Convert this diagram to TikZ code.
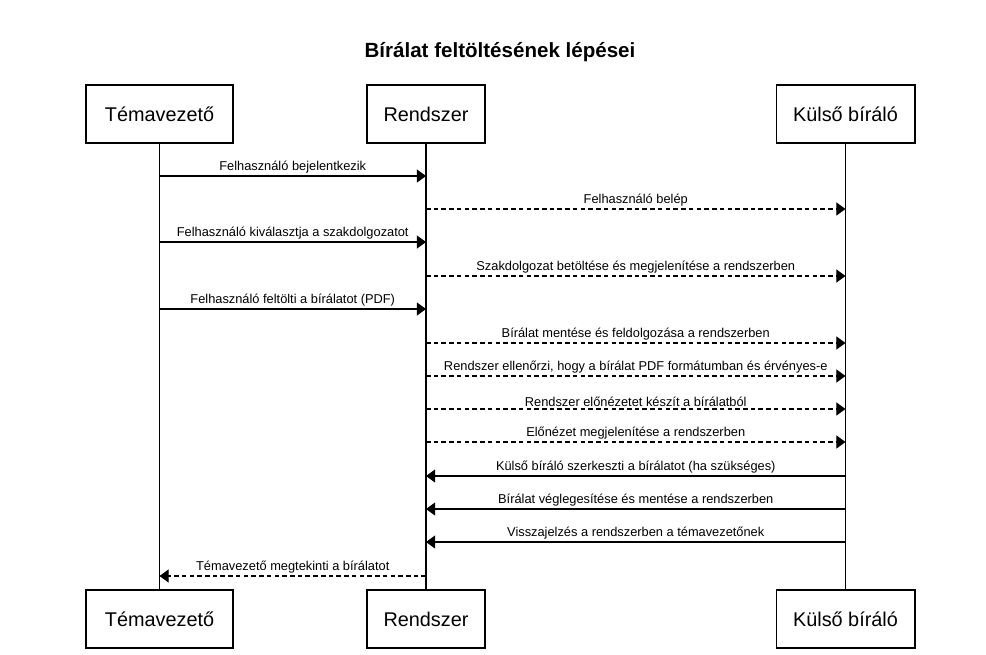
\documentclass[tikz,border=0pt]{standalone}
\usepackage{fontspec}
\setmainfont{Liberation Sans}
\usetikzlibrary{arrows.meta}

\begin{document}
\begin{tikzpicture}[x=0.02cm,y=-0.02cm,
	actor/.style={draw, line width=0.6pt, minimum height=1.16cm, inner sep=0pt, font=\fontsize{11.3}{13}\selectfont},
	msg/.style={line width=0.6pt, -{Triangle[length=5.2pt,width=7.4pt]}},
	reply/.style={msg, dash pattern=on 2.6pt off 1.8pt},
	lbl/.style={above, inner sep=1.3pt, font=\fontsize{7.3}{9}\selectfont}]

\useasboundingbox (0,0) rectangle (986,654);

\node[font=\bfseries\fontsize{11.7}{14}\selectfont] (title) at (500,52) {Bírálat feltöltésének lépései};

% actors, top and bottom
\node[actor, minimum width=2.94cm] (tem) at (159.5,114) {Témavezető};
\node[actor, minimum width=2.36cm] (rsz) at (426,114) {Rendszer};
\node[actor, minimum width=2.78cm] (kb) at (845.5,114) {Külső bíráló};
\node[actor, minimum width=2.94cm] (temb) at (159.5,619) {Témavezető};
\node[actor, minimum width=2.36cm] (rszb) at (426,619) {Rendszer};
\node[actor, minimum width=2.78cm] (kbb) at (845.5,619) {Külső bíráló};

% lifelines
\foreach \a in {tem,rsz,kb}{
	\draw[line width=0.6pt] (\a) -- (\a b);
}

% messages
\foreach \y/\from/\to/\kind/\txt [count=\i] in {
	176/tem/rsz/msg/{Felhasználó bejelentkezik},
	209/rsz/kb/reply/{Felhasználó belép},
	242/tem/rsz/msg/{Felhasználó kiválasztja a szakdolgozatot},
	276/rsz/kb/reply/{Szakdolgozat betöltése és megjelenítése a rendszerben},
	309/tem/rsz/msg/{Felhasználó feltölti a bírálatot (PDF)},
	343/rsz/kb/reply/{Bírálat mentése és feldolgozása a rendszerben},
	376/rsz/kb/reply/{Rendszer ellenőrzi, hogy a bírálat PDF formátumban és érvényes-e},
	409/rsz/kb/reply/{Rendszer előnézetet készít a bírálatból},
	442/rsz/kb/reply/{Előnézet megjelenítése a rendszerben},
	476/kb/rsz/msg/{Külső bíráló szerkeszti a bírálatot (ha szükséges)},
	509/kb/rsz/msg/{Bírálat véglegesítése és mentése a rendszerben},
	542/kb/rsz/msg/{Visszajelzés a rendszerben a témavezetőnek},
	576/rsz/tem/reply/{Témavezető megtekinti a bírálatot}}{
	\coordinate (m\i) at (0,\y);
	\draw[\kind] (\from |- m\i) -- node[lbl] {\txt} (\to |- m\i);
}

\end{tikzpicture}
\end{document}
